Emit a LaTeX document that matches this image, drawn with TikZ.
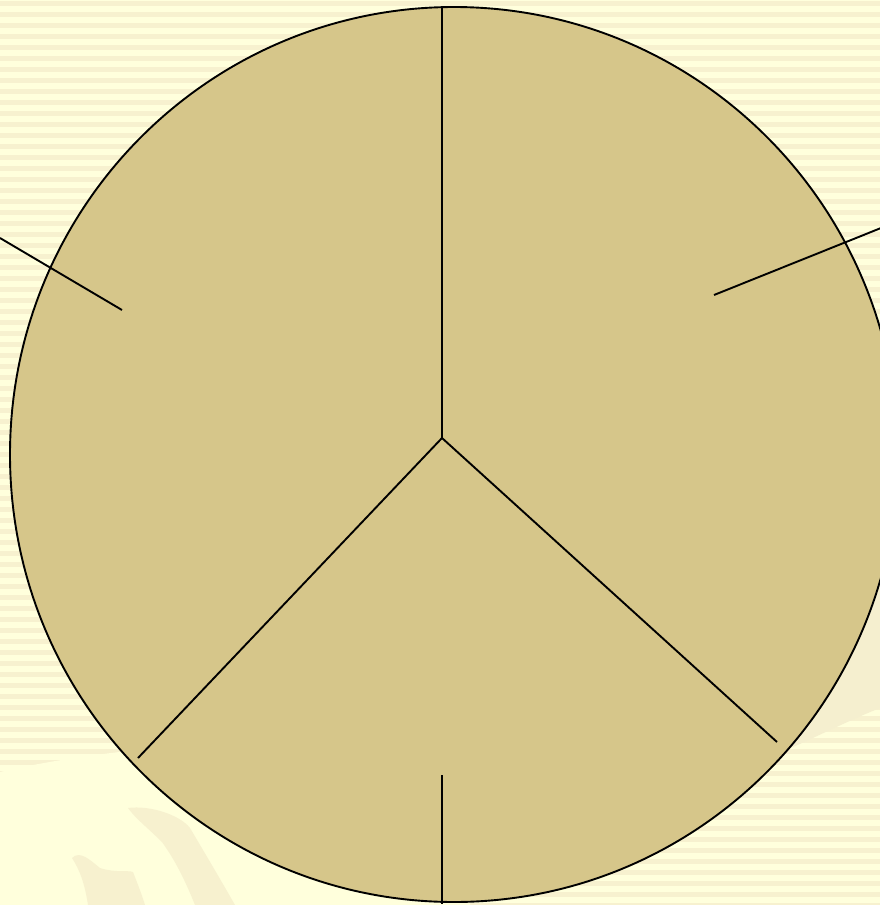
\documentclass[tikz,border=0pt]{standalone}
\definecolor{bgA}{RGB}{255,255,220}
\definecolor{bgB}{RGB}{247,241,207}
\definecolor{bgC}{RGB}{245,239,207}
\definecolor{fillc}{RGB}{214,198,138}
\tikzset{ring/.style={fill=fillc, draw=black, line width=1.9pt},
  spoke/.style={draw=black, line width=1.9pt, line cap=butt}}
\begin{document}
\begin{tikzpicture}[x=1pt,y=-1pt]
\useasboundingbox (0,0) rectangle (880,905);
\clip (0,0) rectangle (880,905);
\fill[bgA] (0,0) rectangle (880,905);
\foreach \i in {0,...,82} \fill[bgB] (0,\i*11+1) rectangle (880,\i*11+6);
% unstriped lower-left area
\fill[bgA] (0,772) .. controls (60,758) and (150,745) .. (300,738) -- (470,738) -- (470,905) -- (0,905) -- cycle;
% light band on the right
\fill[bgC] (880,500) -- (880,708) .. controls (850,720) and (820,735) .. (793,747) -- (700,770) -- (700,500) -- cycle;
% faint background shapes
\fill[bgB] (128,808) .. controls (150,805) and (180,815) .. (190,828) .. controls (200,845) and (215,870) .. (235,905) -- (195,905) .. controls (185,880) and (175,860) .. (162,842) .. controls (150,830) and (135,818) .. cycle;
\fill[bgB] (72,858) .. controls (80,850) and (90,860) .. (100,868) .. controls (115,873) and (128,870) .. (133,872) .. controls (138,885) and (142,895) .. (145,905) -- (88,905) .. controls (85,885) and (80,870) .. (72,858) -- cycle;
% main ellipse
\path[ring] (454,454.5) ellipse [x radius=444pt, y radius=447.5pt];
% coordinates
\coordinate (top) at (442,7);
\coordinate (ctr) at (442,438);
\coordinate (ll) at (138,758);
\coordinate (lr) at (777,742);
\coordinate (bt1) at (442,775);
\coordinate (bt2) at (442,904);
\coordinate (ul1) at (0,238);
\coordinate (ul2) at (122,310);
\coordinate (ur1) at (714,295);
\coordinate (ur2) at (881,228);
\draw[spoke] (top) -- (ctr);
\draw[spoke] (ctr) -- (ll);
\draw[spoke] (ctr) -- (lr);
\draw[spoke] (bt1) -- (bt2);
\draw[spoke] (ul1) -- (ul2);
\draw[spoke] (ur1) -- (ur2);
\end{tikzpicture}
\end{document}
